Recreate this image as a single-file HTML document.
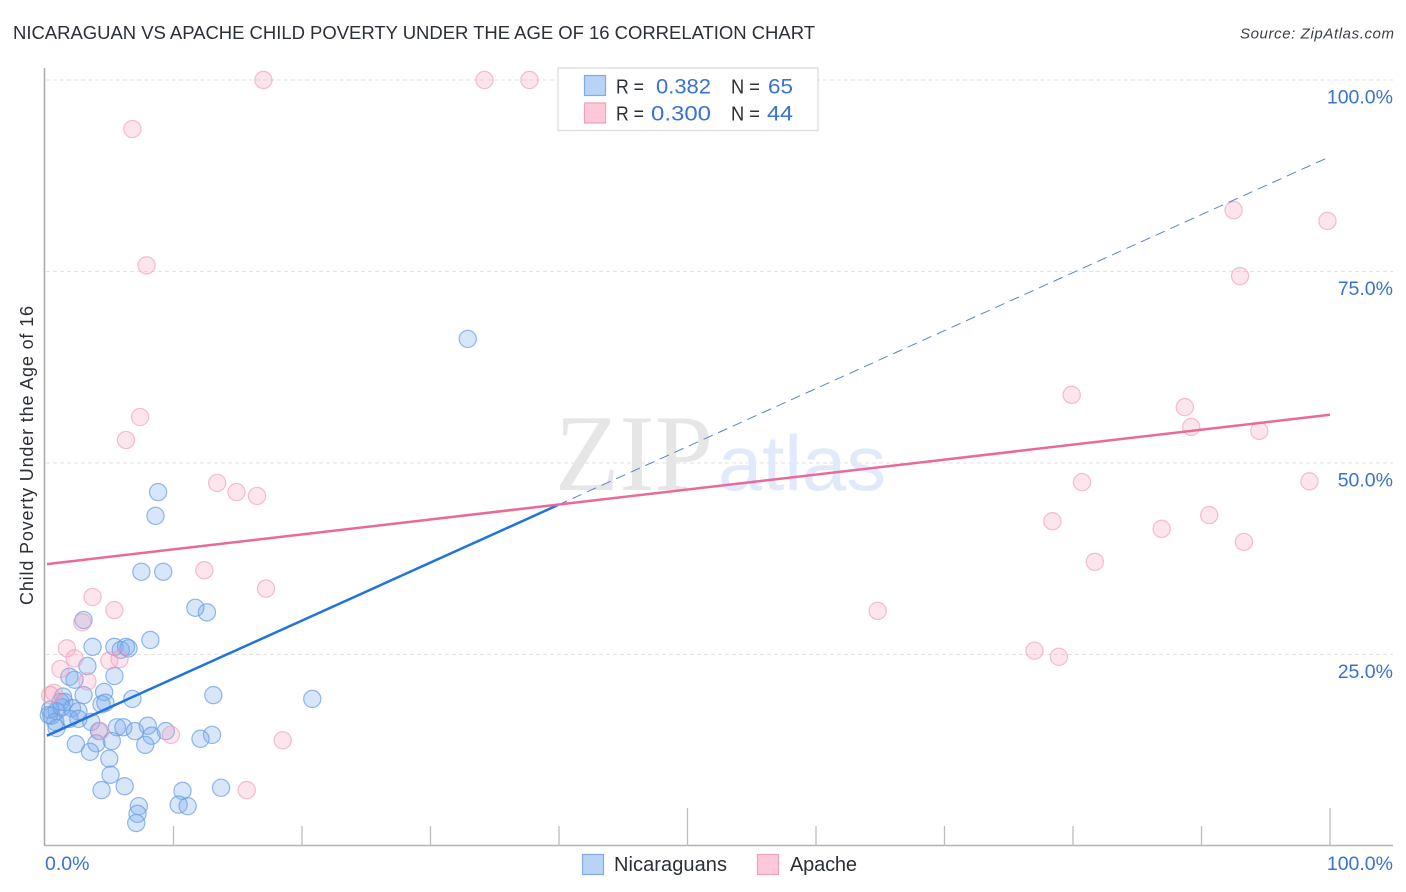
<!DOCTYPE html>
<html lang="en">
<head>
<meta charset="utf-8">
<title>Nicaraguan vs Apache Child Poverty Under the Age of 16 Correlation Chart</title>
<style>
html,body{margin:0;padding:0;background:#fff;width:1406px;height:892px;overflow:hidden}
svg{display:block;font-family:"Liberation Sans",sans-serif}
</style>
</head>
<body>
<svg id="chart" width="1406" height="892" viewBox="0 0 1406 892" xmlns="http://www.w3.org/2000/svg">
  <text x="13" y="39" font-size="18.5" fill="#2b2f36" textLength="802">NICARAGUAN VS APACHE CHILD POVERTY UNDER THE AGE OF 16 CORRELATION CHART</text>
  <text x="1394" y="38.500" font-size="15" font-style="italic" text-anchor="end" fill="#3a3f46" textLength="154">Source: ZipAtlas.com</text>
  <g id="grid"></g>
  <g>
    <text x="555" y="490" font-family="'Liberation Serif',serif" font-size="109" fill="#e6e6e6" textLength="158" lengthAdjust="spacingAndGlyphs">ZIP</text>
    <text x="718" y="490" font-size="78" fill="#e1eafa" textLength="168" lengthAdjust="spacingAndGlyphs">atlas</text>
  </g>
  <g id="axes"></g>
  <g id="points-blue"></g>
  <g id="points-pink"></g>
  <g id="trends"></g>
  <g id="ticklabels"></g>
  <text transform="translate(33,605) rotate(-90)" font-size="18" fill="#2b2f36" textLength="299">Child Poverty Under the Age of 16</text>

  <g>
    <rect x="558" y="68" width="260" height="62.500" fill="#fff" fill-opacity="0.93" stroke="#e0e0e0" stroke-width="1.500"/>
    <rect x="584.500" y="75.500" width="21" height="20" fill="#b9d3f7" stroke="#7fabe6" stroke-width="1.200"/>
    <rect x="584.500" y="103" width="21" height="20" fill="#fdc8d9" stroke="#f0a0b9" stroke-width="1.200"/>
    <g font-size="20">
      <text x="616" y="93.500" fill="#2b2f36" textLength="28" lengthAdjust="spacingAndGlyphs">R =</text>
      <text x="656" y="93.500" fill="#3a72d0" font-size="21.500" textLength="55" lengthAdjust="spacingAndGlyphs">0.382</text>
      <text x="731" y="93.500" fill="#2b2f36" textLength="29" lengthAdjust="spacingAndGlyphs">N =</text>
      <text x="768" y="93.500" fill="#3a72d0" font-size="21.500" textLength="25" lengthAdjust="spacingAndGlyphs">65</text>
      <text x="616" y="120.500" fill="#2b2f36" textLength="28" lengthAdjust="spacingAndGlyphs">R =</text>
      <text x="651" y="120.500" fill="#3a72d0" font-size="21.500" textLength="60" lengthAdjust="spacingAndGlyphs">0.300</text>
      <text x="731" y="120.500" fill="#2b2f36" textLength="29" lengthAdjust="spacingAndGlyphs">N =</text>
      <text x="767" y="120.500" fill="#3a72d0" font-size="21.500" textLength="26" lengthAdjust="spacingAndGlyphs">44</text>
    </g>
  </g>

  <g>
    <rect x="582.500" y="854.500" width="21" height="20" fill="#b9d3f7" stroke="#7fabe6" stroke-width="1.200"/>
    <text x="614" y="871" font-size="20" fill="#2b2f36" textLength="113">Nicaraguans</text>
    <rect x="757.500" y="854.500" width="21" height="20" fill="#fdc8d9" stroke="#f0a0b9" stroke-width="1.200"/>
    <text x="790" y="871" font-size="20" fill="#2b2f36" textLength="67">Apache</text>
  </g>
</svg>
<script>
// Chart data (percent units)
const xTicks = [0,10,20,30,40,50,60,70,80,90,100];
const xMajorTicks = [50,100];
const xTickLabels = [0,100];
const yTicks = [25,50,75,100];

const nicaraguansX = [32.9,8.8,8.6,7.5,9.2,11.7,12.6,3.0,8.2,3.7,5.4,5.9,6.3,6.5,3.3,5.4,1.9,2.3,4.6,3.0,13.1,6.8,20.8,1.4,1.2,1.5,4.4,4.7,2.1,0.4,0.9,2.6,0.5,1.9,2.6,3.6,0.9,5.6,6.1,7.0,8.0,9.4,4.2,8.3,13.0,12.1,5.2,4.0,2.4,7.8,3.5,5.0,5.1,6.2,4.4,13.7,10.7,7.3,10.4,11.1,7.2,7.1,0.3,0.8,1.3];
const nicaraguansY = [66.2,46.2,43.1,35.8,35.8,31.1,30.5,29.5,26.9,26.0,26.0,25.6,26.0,25.8,23.5,22.2,22.1,21.7,20.1,19.7,19.7,19.2,19.2,19.5,18.8,18.8,18.5,18.7,18.0,17.8,17.6,17.6,17.0,16.6,16.6,16.2,15.4,15.5,15.5,15.0,15.7,15.0,15.0,14.4,14.5,14.0,13.7,13.4,13.3,13.2,12.3,11.4,9.3,7.8,7.3,7.6,7.2,5.2,5.4,5.2,4.2,3.0,17.1,16.2,18.1];

const apacheX = [17.0,34.2,37.7,6.8,7.9,92.5,99.8,93.0,79.9,88.7,89.2,94.5,7.4,6.3,13.4,14.9,16.5,80.7,98.4,78.4,90.6,86.9,93.3,81.7,12.4,17.2,3.7,5.4,64.8,2.9,1.7,77.0,78.9,2.3,5.0,5.8,1.2,3.3,0.7,0.4,4.3,9.8,18.5,15.7];
const apacheY = [100,100,100,93.6,75.8,83.0,81.6,74.4,58.9,57.3,54.7,54.2,56.0,53.0,47.4,46.2,45.7,47.5,47.6,42.4,43.2,41.4,39.7,37.1,36.0,33.6,32.5,30.8,30.7,29.2,25.8,25.5,24.7,24.5,24.2,24.4,23.1,21.5,20.0,19.7,15.0,14.5,13.8,7.3];

const blueTrendSolidX = [0.15,39.9];
const blueTrendSolidY = [14.4,44.5];
const blueTrendDashX = [39.9,100];
const blueTrendDashY = [44.5,90];
const pinkTrendX = [0.15,100];
const pinkTrendY = [36.8,56.3];

// Axis functions
function sx(v){ return 45 + v * 12.85; }
function sy(v){ return 846 - v * 7.66; }

const NS = 'http://www.w3.org/2000/svg';
function make(tag, parent, attrs){
  const el = document.createElementNS(NS, tag);
  for (const k in attrs) el.setAttribute(k, attrs[k]);
  document.getElementById(parent).appendChild(el);
  return el;
}

yTicks.forEach(function(t){
  const el = make('line','grid',{x1:46,x2:1393,y1:sy(t),y2:sy(t),stroke:'#e2e2e2','stroke-width':1,'stroke-dasharray':'4 3'});
  
  
  const lab = make('text','ticklabels',{x:1393,y:sy(t)+23.500,'font-size':19.500,'text-anchor':'end',fill:'#3a72d0'});
  lab.textContent = t.toFixed(1) + '%';
  
  
});

const yAxis = make('line','axes',{x1:44.500,x2:44.500,y1:68,y2:846,stroke:'#a8a8a8','stroke-width':1.500});


const xAxis = make('line','axes',{x1:44,x2:1393,y1:845.500,y2:845.500,stroke:'#b4b4b4','stroke-width':1.500});



xTicks.forEach(function(t){
  if (t === 0) return;
  const top = xMajorTicks.indexOf(t) >= 0 ? 808 : 826;
  const tick = make('line','axes',{x1:sx(t),x2:sx(t),y1:top,y2:846,stroke:'#bdbdbd','stroke-width':1.300});
  
  
});

xTickLabels.forEach(function(t){
  const lab = make('text','ticklabels',{x:t === 0 ? sx(t) : 1393,y:870,'font-size':19.500,'text-anchor':t === 0 ? 'start' : 'end',fill:'#3a72d0'});
  lab.textContent = t.toFixed(1) + '%';
  
  
});

nicaraguansX.forEach(function(v,i){
  const c = make('circle','points-blue',{cx:sx(v),cy:sy(nicaraguansY[i]),r:8.600,fill:'#7aabec','fill-opacity':0.3,stroke:'#6a9de2','stroke-opacity':0.72,'stroke-width':1.200});
  
  
});

apacheX.forEach(function(v,i){
  const c = make('circle','points-pink',{cx:sx(v),cy:sy(apacheY[i]),r:8.600,fill:'#f7a3bd','fill-opacity':0.28,stroke:'#ee9ab4','stroke-opacity':0.62,'stroke-width':1.200});
  
  
});

const dash = make('line','trends',{x1:sx(blueTrendDashX[0]),y1:sy(blueTrendDashY[0]),x2:sx(blueTrendDashX[1]),y2:sy(blueTrendDashY[1]),stroke:'#5b82c8','stroke-width':1,'stroke-dasharray':'10 6'});


const solid = make('line','trends',{x1:sx(blueTrendSolidX[0]),y1:sy(blueTrendSolidY[0]),x2:sx(blueTrendSolidX[1]),y2:sy(blueTrendSolidY[1]),stroke:'#2273dc','stroke-width':2.500});


const pink = make('line','trends',{x1:sx(pinkTrendX[0]),y1:sy(pinkTrendY[0]),x2:sx(pinkTrendX[1]),y2:sy(pinkTrendY[1]),stroke:'#e96a9a','stroke-width':2.500});


</script>
</body>
</html>
